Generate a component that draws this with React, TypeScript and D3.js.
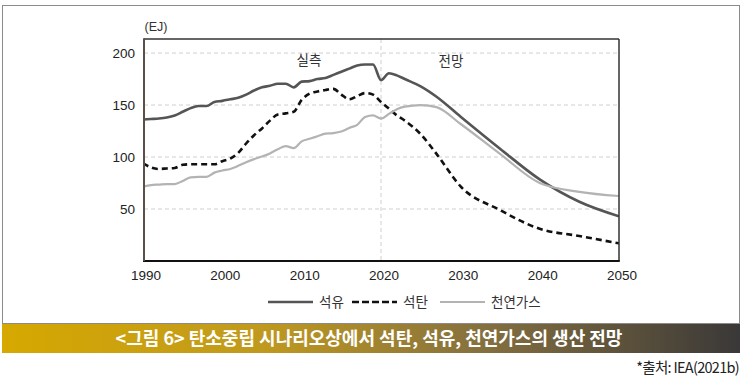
import React from "react";
import * as d3 from "d3";

const years = [1990,1991,1992,1993,1994,1995,1996,1997,1998,1999,2000,2001,2002,2003,2004,2005,2006,2007,2008,2009,2010,2011,2012,2013,2014,2015,2016,2017,2018,2019,2020,2021,2022,2023,2025,2027,2030,2035,2040,2045,2050];
const oil = [136,136.5,137,138,140,143.5,147,149,149,153,154,155.5,157,160,164,167,168.5,170.5,170.5,167,172.5,173,175,176,179,182,185,188,189,189,174,180.5,178.5,175,168,158,139,108,78.5,57,43];
const coal = [94,90,88.5,89,89.5,92.5,93,93,93,93,96,98.5,104,113,121,127.5,135,141,142,143.5,155,161,163,164.5,165.5,160,155.5,158.5,161.5,160,153,146.5,140,135,122,103,72,49,31,24,17];
const gas = [71.5,73,73.5,74,74,77,80.5,81,81,85,87,88.5,91.5,95,98,100.5,103.5,107.5,110.5,108.5,115,117.5,120,122.5,123,124.5,128,131,138.5,140,137,141.5,146,148.5,150,148,132,103,75,66.5,62.5];

const xTicks = [1990, 2000, 2010, 2020, 2030, 2040, 2050];
const yTicks = [50, 100, 150, 200];
const seriesNames = ["석유", "석탄", "천연가스"];
const unitLabel = "(EJ)";
const periodLabels = ["실측", "전망"];
const title = "<그림 6> 탄소중립 시나리오상에서 석탄, 석유, 천연가스의 생산 전망";
const source = "*출처: IEA(2021b)";

const FONT = "'Liberation Sans', 'Noto Sans CJK KR', sans-serif";
const KFONT = "'Noto Sans CJK KR', 'Liberation Sans', sans-serif";

export default function App() {
  const left = 144, right = 619, top = 39, bottom = 261;
  const x = d3.scaleLinear().domain([1990, 2050]).range([left - 1, right]);
  const y = d3.scaleLinear().domain([0, 213.5]).range([bottom, top]);

  const mk = (vals: number[]) =>
    d3.line<number>()
      .x((_, i) => x(years[i]))
      .y((v) => y(v))
      .curve(d3.curveMonotoneX)(vals) || "";

  const styles = [
    { stroke: "#555555", width: 2.6, dash: "" },
    { stroke: "#111111", width: 2.6, dash: "6,4" },
    { stroke: "#b3b3b3", width: 2.2, dash: "" },
  ];
  const data = [oil, coal, gas];
  const legendX = [268, 352, 440];

  return (
    <svg width={742} height={387} style={{ position: "absolute", left: 0, top: 0, background: "#fff" }}>
      <defs>
        <linearGradient id="bar" x1="0" x2="1" y1="0" y2="0">
          <stop offset="0%" stopColor="#d6a800" />
          <stop offset="35%" stopColor="#c09a1e" />
          <stop offset="65%" stopColor="#85703f" />
          <stop offset="100%" stopColor="#3a3838" />
        </linearGradient>
        <clipPath id="plot">
          <rect x={left} y={top} width={right - left} height={bottom - top} />
        </clipPath>
      </defs>
      <rect x={2.5} y={5.5} width={737} height={318} fill="none" stroke="#8a8a8a" strokeWidth={1} />

      {yTicks.map((t) => (
        <g key={t}>
          <line x1={left} x2={right} y1={y(t)} y2={y(t)} stroke="#cfcfcf" strokeWidth={1} strokeDasharray="4,3" />
          <text x={135} y={y(t)} dy="0.35em" textAnchor="end" fontFamily={FONT} fontSize={13.5} fill="#222">{t}</text>
        </g>
      ))}
      <line x1={x(2020)} x2={x(2020)} y1={top} y2={bottom} stroke="#cfcfcf" strokeWidth={1} strokeDasharray="4,3" />

      <g clipPath="url(#plot)">
        {data.map((vals, i) => (
          <path key={i} d={mk(vals)} fill="none" stroke={styles[i].stroke} strokeWidth={styles[i].width}
            strokeDasharray={styles[i].dash || undefined} strokeLinejoin="round" />
        ))}
      </g>

      <line x1={left} x2={right} y1={top} y2={top} stroke="#333" strokeWidth={1.5} />
      <line x1={right} x2={right} y1={top} y2={bottom} stroke="#333" strokeWidth={1.5} />
      <line x1={left - 1} x2={right + 0.75} y1={bottom} y2={bottom} stroke="#111" strokeWidth={1.8} />
      <line x1={left} x2={left} y1={top - 0.75} y2={bottom} stroke="#5b4f4a" strokeWidth={2} />

      {xTicks.map((t) => (
        <text key={t} x={x(t) + 3} y={275} dy="0.35em" textAnchor="middle" fontFamily={FONT} fontSize={13.5} fill="#222">{t}</text>
      ))}

      <text x={156} y={27} dy="0.35em" textAnchor="middle" fontFamily={FONT} fontSize={12.5} fill="#333">{unitLabel}</text>
      <text x={309} y={60} dy="0.35em" textAnchor="middle" fontFamily={KFONT} fontSize={13.5} fill="#333">{periodLabels[0]}</text>
      <text x={451} y={61} dy="0.35em" textAnchor="middle" fontFamily={KFONT} fontSize={13.5} fill="#333">{periodLabels[1]}</text>

      {seriesNames.map((n, i) => (
        <g key={n}>
          <line x1={legendX[i]} x2={legendX[i] + 45} y1={302} y2={302} stroke={styles[i].stroke}
            strokeWidth={styles[i].width} strokeDasharray={styles[i].dash ? "7,3" : undefined} />
          <text x={legendX[i] + 51} y={302} dy="0.35em" fontFamily={KFONT} fontSize={13.5} fill="#333">{n}</text>
        </g>
      ))}

      <rect x={2} y={324} width={738} height={29} fill="url(#bar)" />
      <text x={369} y={338.5} dy="0.35em" textAnchor="middle" fontFamily={KFONT} fontWeight="bold" fontSize={18} fill="#fff">{title}</text>

      <text x={739} y={368} dy="0.35em" textAnchor="end" fontFamily={KFONT} fontSize={14.5} fill="#222" letterSpacing={-0.7}>{source}</text>
    </svg>
  );
}
